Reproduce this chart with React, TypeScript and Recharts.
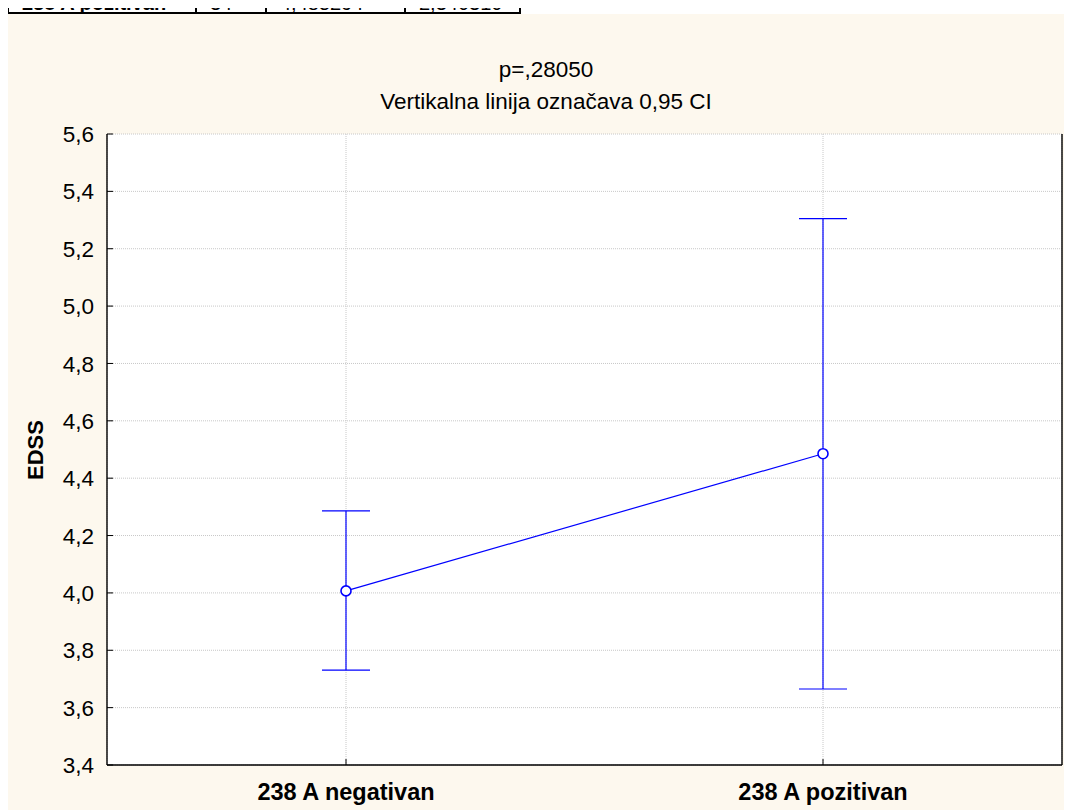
import React from 'react';
import {
  ComposedChart,
  Line,
  ErrorBar,
  XAxis,
  YAxis,
  CartesianGrid,
} from 'recharts';

// groups on the x axis
const groups = ['238 A negativan', '238 A pozitivan'];
// EDSS means and 0,95 CI bounds per group
const means = [4.007, 4.485294];
const ciLow = [3.731, 3.665];
const ciHigh = [4.286, 5.305];
const yTicks = [3.4, 3.6, 3.8, 4.0, 4.2, 4.4, 4.6, 4.8, 5.0, 5.2, 5.4, 5.6];

// visible last row of the stats table above the chart
const tableCells = ['238 A pozitivan', '34', '4,485294', '2,340310'];
const tableCellWidths = [188, 70, 139, 117];

const FONT = '"Liberation Sans", Arial, Helvetica, sans-serif';
const BLUE = '#0000ff';

const data = groups.map((name, i) => ({
  name,
  mean: means[i],
  err: [means[i] - ciLow[i], ciHigh[i] - means[i]],
}));

const fmt = (v: number) => v.toFixed(1).replace('.', ',');

const LeftTick = (props: any) => {
  const { x, y, payload } = props;
  return (
    <g>
      <text x={x} y={y} dy="0.36em" textAnchor="end" fontSize={22.5} fill="#000" fontFamily={FONT}>
        {fmt(payload.value)}
      </text>
      <line x1={x + 13} x2={x + 19} y1={y} y2={y} stroke="#000" strokeWidth={1} />
    </g>
  );
};

const RightTick = (props: any) => {
  const { x, y } = props;
  return <line x1={x - 6} x2={x} y1={y} y2={y} stroke="#000" strokeWidth={1} />;
};

const BottomTick = (props: any) => {
  const { x, y, payload } = props;
  return (
    <g>
      <line x1={x} x2={x} y1={y - 27} y2={y - 33} stroke="#000" strokeWidth={1} />
      <text x={x} y={y} dy="0.36em" textAnchor="middle" fontSize={23.5} fontWeight="bold" fill="#000" fontFamily={FONT}>
        {payload.value}
      </text>
    </g>
  );
};

export default function App() {
  return (
    <div
      style={{
        position: 'relative',
        marginLeft: -8,
        marginTop: -8,
        width: 1072,
        height: 810,
        background: '#fff',
        overflow: 'hidden',
        fontFamily: FONT,
      }}
    >
      {/* stats table, cut off at the top */}
      <div
        style={{
          position: 'absolute',
          left: 7,
          top: -5,
          height: 17,
          display: 'flex',
          borderBottom: '2px solid #000',
        }}
      >
        {tableCells.map((c, i) => (
          <div
            key={i}
            style={{
              width: tableCellWidths[i],
              boxSizing: 'border-box',
              borderLeft: '2px solid #000',
              borderRight: i === tableCells.length - 1 ? '2px solid #000' : undefined,
              paddingLeft: 13,
              lineHeight: '17px',
              fontSize: 20,
              fontWeight: i === 0 ? 'bold' : 'normal',
              whiteSpace: 'nowrap',
            }}
          >
            {c}
          </div>
        ))}
      </div>

      <div
        style={{
          position: 'absolute',
          left: 8,
          top: 14,
          width: 1064,
          height: 796,
          background: '#fdf8ee',
        }}
      >
        <div
          style={{
            position: 'absolute',
            left: 0,
            width: 1076,
            top: 40,
            textAlign: 'center',
            fontSize: 22.5,
            lineHeight: '32px',
            color: '#000',
          }}
        >
          <div>p=,28050</div>
          <div>Vertikalna linija označava 0,95 CI</div>
        </div>
        <div
          style={{
            position: 'absolute',
            left: 27.5,
            top: 436,
            transform: 'translate(-50%, -50%) rotate(-90deg)',
            fontSize: 22,
            fontWeight: 'bold',
            whiteSpace: 'nowrap',
          }}
        >
          EDSS
        </div>

        <ComposedChart
          width={1064}
          height={796}
          data={data}
          margin={{ top: 120, right: 0, bottom: 0, left: 0 }}
          style={{ position: 'absolute', left: 0, top: 0 }}
        >
          <CartesianGrid
            fill="#fff"
            fillOpacity={1}
            stroke="#c8c8c8"
            strokeDasharray="1 1"
          />
          <XAxis
            dataKey="name"
            height={45}
            padding={{ left: 239, right: 239 }}
            tickSize={0}
            tickLine={false}
            tickMargin={27}
            tick={<BottomTick />}
            axisLine={{ stroke: '#000', strokeWidth: 1.4 }}
          />
          <XAxis
            xAxisId="top"
            dataKey="name"
            orientation="top"
            height={0}
            tick={false}
            tickLine={false}
            axisLine={{ stroke: '#000', strokeWidth: 1.4 }}
          />
          <YAxis
            width={99}
            domain={[3.4, 5.6]}
            ticks={yTicks}
            type="number"
            tickSize={0}
            tickLine={false}
            tickMargin={13}
            tick={<LeftTick />}
            axisLine={{ stroke: '#000', strokeWidth: 1.4 }}
            interval={0}
          />
          <YAxis
            yAxisId="r"
            orientation="right"
            width={10}
            domain={[3.4, 5.6]}
            ticks={yTicks}
            type="number"
            tickSize={0}
            tickLine={false}
            tickMargin={0}
            tick={<RightTick />}
            axisLine={{ stroke: '#000', strokeWidth: 1.4 }}
            interval={0}
          />
          <Line
            dataKey="mean"
            stroke={BLUE}
            strokeWidth={1.2}
            isAnimationActive={false}
            dot={{ r: 5, fill: '#fff', stroke: BLUE, strokeWidth: 1.6 }}
            activeDot={false}
          >
            <ErrorBar dataKey="err" width={24} stroke={BLUE} strokeWidth={1.2} direction="y" isAnimationActive={false} />
          </Line>
        </ComposedChart>
      </div>
    </div>
  );
}
